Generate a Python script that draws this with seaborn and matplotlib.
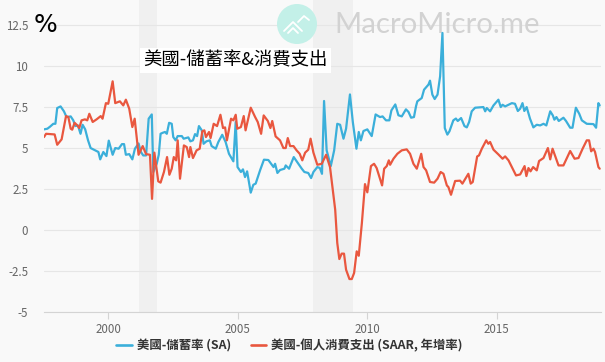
import matplotlib
matplotlib.use("Agg")
import matplotlib.pyplot as plt
from matplotlib.patches import Circle
from matplotlib.lines import Line2D
import pandas as pd
import seaborn as sns

savings_years = [1997.53,1997.66,1997.76,1997.89,1997.97,1998.04,1998.17,1998.30,1998.40,1998.56,1998.66,1998.74,1998.84,1998.94,1999.02,1999.12,1999.23,1999.33,1999.50,1999.63,1999.70,1999.82,1999.94,2000.03,2000.18,2000.28,2000.41,2000.54,2000.62,2000.69,2000.82,2000.94,2001.04,2001.18,2001.27,2001.36,2001.47,2001.57,2001.69,2001.75,2001.88,2001.96,2002.03,2002.11,
 2002.20,2002.27,2002.36,2002.46,2002.52,2002.61,2002.69,2002.85,2002.92,2003.10,2003.18,2003.28,2003.36,2003.44,2003.51,2003.62,2003.69,2003.80,2003.93,2004.00,2004.16,2004.26,2004.41,2004.54,2004.67,2004.84,2004.93,2005.00,2005.13,2005.21,2005.29,2005.37,2005.51,2005.61,2005.70,2005.87,2006.02,2006.19,2006.39,2006.45,2006.54,2006.64,2006.81,2006.86,2006.99,2007.17,2007.35,2007.48,2007.58,2007.73,2007.84,2007.93,2008.08,2008.18,2008.26,2008.34,2008.44,2008.60,2008.73,2008.85,2008.96,2009.09,2009.19,2009.34,2009.45,2009.59,2009.68,2009.76,2009.86,2010.01,2010.18,2010.33,2010.50,2010.60,2010.73,2010.86,2010.94,2011.09,2011.21,2011.34,2011.50,2011.60,2011.70,2011.81,2011.89,2011.94,2012.11,2012.20,2012.37,2012.43,2012.52,2012.61,2012.72,2012.82,2012.91,2013.00,2013.10,2013.18,2013.33,2013.43,2013.50,2013.63,2013.76,2013.85,2013.94,2014.04,2014.17,2014.49,2014.56,2014.62,2014.75,2014.88,2015.07,2015.16,2015.23,2015.33,2015.59,2015.71,2015.82,2015.91,2016.00,2016.07,2016.16,2016.29,2016.42,2016.55,2016.68,2016.81,2016.92,2017.07,2017.17,2017.23,2017.31,2017.40,2017.58,2017.68,2017.84,2017.93,2018.06,2018.19,2018.29,2018.48,2018.74,2018.84,2018.93,2018.98]
savings_rate = [6.14,6.18,6.3,6.48,6.48,7.44,7.54,7.24,6.89,6.93,6.69,6.34,6.38,5.87,6.42,6.14,5.47,5.0,4.86,4.76,4.31,4.76,4.51,5.45,4.59,5.0,4.96,5.24,5.24,4.59,4.63,4.31,4.96,5.28,4.76,4.55,4.55,6.79,7.05,3.54,4.04,4.59,5.87,5.93,
 5.98,5.87,6.54,6.48,5.67,5.47,5.73,5.73,5.57,5.65,5.41,5.47,5.85,5.73,6.34,6.08,5.26,5.41,5.47,5.12,4.96,5.37,5.81,5.37,4.65,4.19,6.6,3.84,3.54,3.7,3.23,3.58,2.28,2.76,2.83,3.64,4.29,4.27,3.84,4.04,3.48,3.66,3.74,3.94,3.74,4.45,4.04,3.74,3.54,3.48,3.17,3.54,3.84,3.78,3.43,7.87,4.86,3.9,4.86,6.48,6.42,5.57,6.18,8.27,6.59,4.96,5.98,5.47,6.04,6.14,5.73,7.05,6.89,6.93,6.69,6.69,7.3,7.66,7.0,6.93,7.36,7.2,6.85,6.89,7.55,7.85,8.05,8.56,8.87,9.11,8.26,7.99,8.26,9.38,12.02,6.22,5.82,6.02,6.69,6.8,6.65,6.83,6.34,6.26,6.59,7.24,7.46,7.5,7.24,7.44,7.24,7.6,7.95,7.5,7.64,7.54,7.74,7.7,7.26,7.4,7.74,7.26,7.5,6.79,6.26,6.42,6.38,6.48,6.38,7.24,6.99,6.73,6.89,6.65,6.85,6.65,6.24,6.24,7.46,7.09,6.69,6.48,6.46,6.24,7.74,7.6]

spending_years = [1997.53,1997.61,1997.94,1998.04,1998.21,1998.38,1998.47,1998.56,1998.62,1998.71,1998.82,1998.89,1998.98,1999.11,1999.20,1999.28,1999.41,1999.56,1999.72,1999.79,1999.92,2000.01,2000.18,2000.28,2000.46,2000.59,2000.69,2000.82,2000.94,2001.03,2001.18,2001.34,2001.47,2001.62,2001.70,2001.79,2001.94,2002.03,2002.16,2002.28,2002.37,
 2002.46,2002.54,2002.63,2002.69,2002.78,2002.93,2003.04,2003.13,2003.18,2003.28,2003.42,2003.54,2003.64,2003.72,2003.78,2003.90,2003.96,2004.08,2004.21,2004.34,2004.44,2004.52,2004.59,2004.75,2004.84,2004.93,2004.99,2005.13,2005.24,2005.31,2005.51,2005.68,2005.78,2005.91,2006.01,2006.17,2006.27,2006.34,2006.47,2006.64,2006.77,2006.86,2006.94,2007.03,2007.16,2007.28,2007.40,2007.50,2007.61,2007.73,2007.82,2007.93,2008.08,2008.25,2008.42,2008.57,2008.67,2008.77,2008.85,2008.93,2009.02,2009.11,2009.19,2009.32,2009.41,2009.50,2009.60,2009.68,2009.80,2009.92,2010.01,2010.15,2010.27,2010.37,2010.58,2010.66,2010.76,2010.84,2010.89,2011.02,2011.17,2011.34,2011.53,2011.66,2011.79,2011.92,2012.09,2012.18,2012.28,2012.43,2012.59,2012.72,2012.84,2012.95,2013.08,2013.14,2013.24,2013.40,2013.59,2013.68,2013.91,2014.00,2014.08,2014.17,2014.25,2014.32,2014.43,2014.60,2014.68,2014.75,2014.88,2015.07,2015.23,2015.33,2015.46,2015.59,2015.75,2015.91,2016.08,2016.15,2016.23,2016.31,2016.41,2016.55,2016.64,2016.81,2016.98,2017.07,2017.16,2017.39,2017.58,2017.84,2018.01,2018.16,2018.32,2018.48,2018.57,2018.65,2018.74,2018.80,2018.93,2018.98]
spending_growth = [5.67,5.87,5.83,5.2,5.53,6.95,6.89,6.18,6.12,6.54,6.38,6.22,6.69,6.75,6.69,7.09,6.59,6.75,6.95,6.79,7.74,7.7,9.07,7.74,7.85,7.6,7.95,7.4,6.28,6.79,4.59,5.12,4.63,4.59,1.9,4.72,2.97,2.89,3.54,4.45,3.37,
 3.74,4.45,4.25,5.47,3.13,5.16,5.06,4.45,5.06,4.39,4.86,4.96,6.02,6.08,5.67,5.98,5.61,6.48,6.34,7.03,6.22,6.26,5.47,6.79,6.69,7.03,6.18,6.28,6.95,6.08,7.46,6.89,6.59,5.87,6.99,6.65,6.22,6.65,5.71,5.47,5.0,5.0,5.61,5.12,5.12,4.86,4.65,4.25,4.72,4.9,5.57,4.72,3.98,4.04,4.59,3.84,2.52,1.24,-0.79,-1.77,-1.44,-1.44,-2.42,-2.99,-2.99,-2.62,-1.3,-1.57,0.43,2.8,2.3,3.9,4.04,3.78,2.72,3.74,3.9,4.25,3.98,4.35,4.65,4.86,4.92,4.65,4.04,3.74,4.65,3.84,3.64,2.93,2.89,3.13,3.54,3.43,2.72,2.62,2.15,2.99,3.01,2.83,3.43,2.83,2.93,3.74,4.49,4.55,4.96,5.47,5.26,5.37,4.9,4.61,4.35,4.49,4.25,3.84,3.33,3.39,3.9,3.29,3.78,3.58,3.84,3.64,4.21,4.39,5.0,4.31,4.96,3.94,3.94,4.82,4.35,4.39,4.96,5.47,5.47,4.8,4.96,4.76,3.84,3.74]

recessions = [(2001.2, 2001.9), (2007.9, 2009.46)]
y_ticks = [-5, -2.5, 0, 2.5, 5, 7.5, 10, 12.5]
y_tick_labels = ["-5", "-2.5", "0", "2.5", "5", "7.5", "10", "12.5"]
x_ticks = [2000, 2005, 2010, 2015]
name_savings = "美國-儲蓄率 (SA)"
name_spending = "美國-個人消費支出 (SAAR, 年增率)"
title = "美國-儲蓄率&消費支出"

W, H = 605, 362
sns.set_theme(style="white")
plt.rcParams["font.family"] = ["Noto Sans CJK TC", "DejaVu Sans"]

df = pd.concat([
    pd.DataFrame({"year": savings_years, "value": savings_rate, "series": name_savings}),
    pd.DataFrame({"year": spending_years, "value": spending_growth, "series": name_spending}),
])

bg = "#f9f9f9"
fig = plt.figure(figsize=(W / 100, H / 100), dpi=100, facecolor=bg)
ax = fig.add_axes([44 / W, 1 - 312 / H, (601 - 44) / W, 312 / H], facecolor="none")

# pixel-space overlay used for the watermark and the floating titles
fa = fig.add_axes([0, 0, 1, 1], facecolor="none", zorder=5)
fa.set_xlim(0, W); fa.set_ylim(H, 0); fa.axis("off")

for a, b in recessions:
    ax.axvspan(a, b, color="#f0f0f0", lw=0, zorder=0)

# watermark sits above the shading and below the lines
tr = fa.transData
ax.add_patch(Circle((297, 24), 20, color="#c3f0e8", lw=0, transform=tr, zorder=1.5, clip_on=False))
for xs, ys in [([284, 293, 302], [31, 22, 31]), ([288, 293, 298], [33, 28, 33]), ([298, 304, 309], [22, 16, 20])]:
    ax.add_line(Line2D(xs, ys, color="white", lw=1.3, transform=tr, zorder=1.6, clip_on=False))
ax.text(334, 25, "MacroMicro.me", fontsize=21.2, color="#d2d2d2", va="center", ha="left",
        family="Lato", transform=tr, zorder=1.6, clip_on=False)

sns.lineplot(data=df, x="year", y="value", hue="series", estimator=None, sort=False,
             palette=["#3BAFDA", "#E9573F"], linewidth=1.6, ax=ax, legend=False, zorder=3)

ax.set_xlim(1997.53, 2019.03)
ax.set_ylim(-5, 14.03)
ax.set_yticks(y_ticks, y_tick_labels)
ax.set_xticks(x_ticks, [str(x) for x in x_ticks])
ax.set_xlabel(""); ax.set_ylabel("")
ax.grid(axis="y", color="#e6e6e6", lw=0.8, zorder=1)
ax.set_axisbelow(True)
for s in ["top", "left", "right"]:
    ax.spines[s].set_visible(False)
ax.spines["bottom"].set_color("#d4d4d4")
ax.spines["bottom"].set_linewidth(0.8)
ax.tick_params(axis="y", length=0, labelsize=8.3, labelcolor="#666666", pad=11.4)
ax.tick_params(axis="x", length=5, width=0.8, color="#d4d4d4", labelsize=8.3, labelcolor="#666666", pad=3, bottom=True)

handles = [Line2D([], [], color="#3BAFDA", lw=1.9), Line2D([], [], color="#E9573F", lw=1.9)]
fig.legend(handles, [name_savings, name_spending], loc="center", bbox_to_anchor=(289.5 / W, 1 - 345.5 / H),
           ncol=2, frameon=False, handlelength=1.27, handletextpad=0.4, columnspacing=1.6,
           prop={"size": 8.9, "weight": "bold", "family": ["Noto Sans CJK TC", "DejaVu Sans"]}, labelcolor="#333333")

fa.text(34, 25.5, "%", fontsize=18, color="black", va="center", ha="left", family="DejaVu Sans")
fa.text(143, 60.5, title, fontsize=13.25, color="black", va="center", ha="left", weight="light",
        bbox=dict(facecolor="white", edgecolor="none", pad=2.5))

fig.savefig("out.png", dpi=100, facecolor=bg)
